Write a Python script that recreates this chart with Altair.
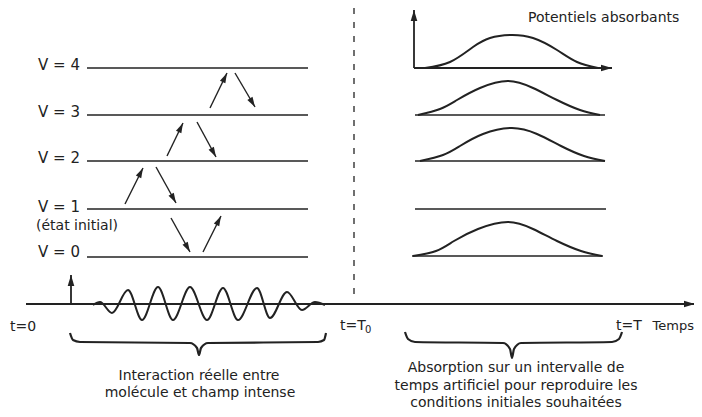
import math
import altair as alt
import pandas as pd

INK = "#222222"
FONT = "DejaVu Sans"

# ---- data (image pixel coordinates) ----
level_names = ["V = 0", "V = 1", "V = 2", "V = 3", "V = 4"]
level_y = [257, 209, 161, 115, 68]
level_x0, level_x1 = 87, 308

# right panel baselines (x0, x1, y)
base_x0 = [414, 415, 415, 415, 412]
base_x1 = [608, 605, 605, 606, 603]
base_y = [68, 115, 161, 209, 256]

# absorbing potential curves (x, y) per curve
curve_ids = ["c4", "c3", "c2", "c0"]
curve_x = [
    [425, 450, 473, 490, 510, 533, 557, 577, 598],
    [418, 440, 457, 480, 508, 533, 557, 580, 600],
    [420, 443, 460, 483, 512, 537, 561, 584, 605],
    [413, 436, 454, 478, 508, 533, 557, 581, 602],
]
curve_y = [
    [68, 62, 47, 38, 35, 38, 50, 62, 68],
    [115, 109, 100, 88, 81, 88, 100, 110, 115],
    [161, 155, 146, 134, 128, 134, 146, 156, 161],
    [256, 251, 241, 229, 222, 229, 241, 251, 256],
]

# laser field extrema
wave_x = [93, 100, 112, 128, 142, 158, 173, 190, 207, 223, 238, 257, 270, 287, 302, 315, 325]
wave_y = [305, 302, 313, 290, 320, 287, 320, 287, 320, 288, 320, 288, 318, 292, 310, 302, 305]

# transition arrows (from -> to)
arr_x0 = [125, 156, 167, 197, 210, 235, 171, 203]
arr_y0 = [204, 167, 156, 122, 108, 73, 218, 252]
arr_x1 = [143, 176, 183, 216, 227, 255, 190, 221]
arr_y1 = [168, 203, 123, 157, 73, 107, 252, 216]

# axis arrows (from -> to)
ax_x0 = [26, 71, 414, 414]
ax_y0 = [304, 304, 68, 68]
ax_x1 = [695, 71, 414, 612]
ax_y1 = [304, 275, 10, 68]

# braces
brace1_x = [70, 73, 80, 190, 197, 199, 201, 208, 318, 324, 326]
brace1_y = [333, 340, 342, 343, 348, 355, 348, 343, 342, 340, 333]
brace2_x = [405, 408, 415, 503, 510, 512, 514, 521, 612, 619, 622]
brace2_y = [332, 339, 342, 343, 349, 358, 349, 343, 342, 339, 332]

xs = alt.Scale(domain=[8, 694], nice=False, zero=False)
ys = alt.Scale(domain=[8, 409], reverse=True, nice=False, zero=False)
X = lambda f="x": alt.X(f"{f}:Q", scale=xs, axis=None)
Y = lambda f="y": alt.Y(f"{f}:Q", scale=ys, axis=None)

layers = []

# level lines
lv = pd.DataFrame({"y": level_y})
lv["x"] = level_x0
lv["x2"] = level_x1
layers.append(alt.Chart(lv).mark_rule(color=INK, strokeWidth=1.6).encode(
    x=X(), x2="x2:Q", y=Y()))

bl = pd.DataFrame({"x": base_x0, "x2": base_x1, "y": base_y})
layers.append(alt.Chart(bl).mark_rule(color=INK, strokeWidth=1.6).encode(
    x=X(), x2="x2:Q", y=Y()))

# curves
rows = []
for cid, cx, cy in zip(curve_ids, curve_x, curve_y):
    for i, (a, b) in enumerate(zip(cx, cy)):
        rows.append({"id": cid, "o": i, "x": a, "y": b})
layers.append(alt.Chart(pd.DataFrame(rows)).mark_line(
    color=INK, strokeWidth=2, interpolate="natural").encode(
    x=X(), y=Y(), detail="id:N", order="o:Q"))

# wave
wv = pd.DataFrame({"x": wave_x, "y": wave_y, "o": range(len(wave_x))})
layers.append(alt.Chart(wv).mark_line(
    color=INK, strokeWidth=2, interpolate="monotone").encode(
    x=X(), y=Y(), order="o:Q"))

# braces
br = []
for bid, bx, by in (("b1", brace1_x, brace1_y), ("b2", brace2_x, brace2_y)):
    for i, (a, b) in enumerate(zip(bx, by)):
        br.append({"id": bid, "o": i, "x": a, "y": b})
layers.append(alt.Chart(pd.DataFrame(br)).mark_line(
    color=INK, strokeWidth=2.2, interpolate="monotone").encode(
    x=X(), y=Y(), detail="id:N", order="o:Q"))

# dashed separator
ds = pd.DataFrame({"x": [354], "y": [8], "y2": [300]})
layers.append(alt.Chart(ds).mark_rule(color="#333333", strokeWidth=1.4,
                                      strokeDash=[6, 8]).encode(
    x=X(), y=Y(), y2="y2:Q"))


def arrows(x0, y0, x1, y1, width, head_len):
    shafts = pd.DataFrame({"x": x0, "y": y0, "x2": x1, "y2": y1})
    heads = []
    for a, b, c, d in zip(x0, y0, x1, y1):
        dx, dy = c - a, d - b
        L = math.hypot(dx, dy)
        ux, uy = dx / L, dy / L
        ang = math.degrees(math.atan2(dx, -dy)) % 360
        heads.append({"x": c - ux * head_len / 2, "y": d - uy * head_len / 2, "angle": ang})
    shaft = alt.Chart(shafts).mark_rule(color=INK, strokeWidth=width).encode(
        x=X(), y=Y(), x2="x2:Q", y2="y2:Q")
    head = alt.Chart(pd.DataFrame(heads)).mark_point(
        shape="M0,-1L0.6,1L-0.6,1Z", filled=True, color=INK, opacity=1,
        strokeWidth=0).encode(
        x=X(), y=Y(), angle=alt.Angle("angle:Q", scale=None),
        size=alt.value(head_len * head_len))
    return [shaft, head]


layers += arrows(arr_x0, arr_y0, arr_x1, arr_y1, 1.4, 10)
layers += arrows(ax_x0, ax_y0, ax_x1, ax_y1, 1.8, 11)

# texts
def text(df, align, size=14, baseline="middle"):
    return alt.Chart(df).mark_text(align=align, baseline=baseline, font=FONT,
                                   fontSize=size, color=INK).encode(
        x=X(), y=Y(), text="t:N")

lab = pd.DataFrame({"x": [80] * 5, "y": [252, 207, 158, 112, 65], "t": level_names})
layers.append(text(lab, "right", 15))

left_txt = pd.DataFrame({
    "x": [36, 528, 10, 340, 616],
    "y": [226, 18, 327, 326, 326],
    "t": ["(état initial)", "Potentiels absorbants", "t=0", "t=T", "t=T"],
})
layers.append(text(left_txt, "left", 14))
temps = pd.DataFrame({"x": [694], "y": [326], "t": ["Temps"]})
layers.append(text(temps, "right", 13))
sub = pd.DataFrame({"x": [365], "y": [330], "t": ["0"]})
layers.append(text(sub, "left", 10))

center_txt = pd.DataFrame({
    "x": [199, 200, 516, 516, 516],
    "y": [376, 393, 368, 386, 403],
    "t": ["Interaction réelle entre", "molécule et champ intense",
          "Absorption sur un intervalle de",
          "temps artificiel pour reproduire les",
          "conditions initiales souhaitées"],
})
layers.append(text(center_txt, "center", 14))

chart = alt.layer(*layers).properties(
    width=686, height=401, padding=0, autosize="none", background="white"
).configure_view(stroke=None)

chart.save("out.html", embed_options={"renderer": "svg", "actions": False})
